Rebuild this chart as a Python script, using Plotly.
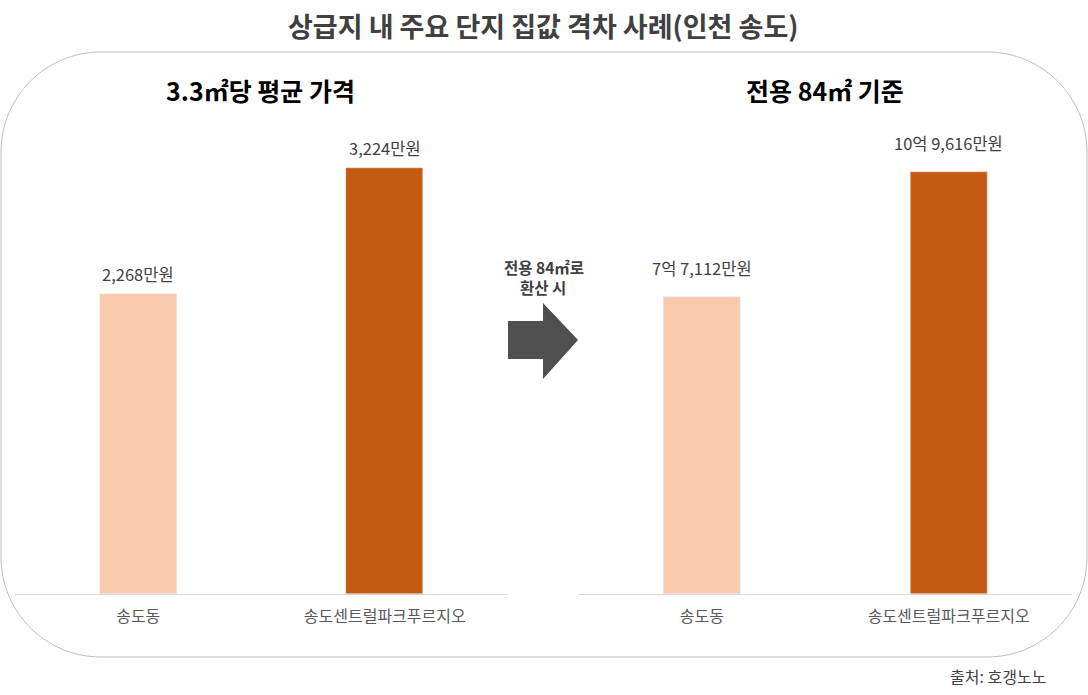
import plotly.graph_objects as go

W, H = 1088, 695

categories = ["송도동", "송도센트럴파크푸르지오"]
price_per_33 = [2268, 3224]            # 만원 per 3.3㎡
price_84 = [77112, 109616]             # 만원 for 84㎡
labels_33 = ["2,268만원", "3,224만원"]
labels_84 = ["7억 7,112만원", "10억 9,616만원"]
bar_colors = ["#F8CBAD", "#C55A11"]

title_text = "상급지 내 주요 단지 집값 격차 사례(인천 송도)"
sub_left = "3.3㎡당 평균 가격"
sub_right = "전용 84㎡ 기준"
arrow_lines = ["전용 84㎡로", "환산 시"]
source_text = "출처: 호갱노노"

FONT = "Noto Sans CJK KR"

def px(x):
    return x / W

def py(y):
    return 1 - y / H

fig = go.Figure()
fig.add_trace(go.Bar(x=categories, y=price_per_33, marker_color=bar_colors,
                     width=0.3125, xaxis="x", yaxis="y", showlegend=False,
                     hoverinfo="skip"))
fig.add_trace(go.Bar(x=categories, y=price_84, marker_color=bar_colors,
                     width=0.3125, xaxis="x2", yaxis="y2", showlegend=False,
                     hoverinfo="skip"))

ydom = [py(594), py(118)]
axis_common = dict(showgrid=False, zeroline=False, showline=True,
                   linecolor="#D9D9D9", linewidth=1, ticks="",
                   tickfont=dict(family=FONT, size=16, color="#595959"),
                   range=[-0.5, 1.5], fixedrange=True, ticklabelstandoff=8)
fig.update_layout(
    width=W, height=H,
    margin=dict(l=0, r=0, t=0, b=0),
    paper_bgcolor="white", plot_bgcolor="white",
    font=dict(family=FONT),
    bargap=0,
    xaxis=dict(domain=[px(15), px(508)], anchor="y", **axis_common),
    xaxis2=dict(domain=[px(578.5), px(1072)], anchor="y2", **axis_common),
    yaxis=dict(domain=ydom, range=[0, 3600], visible=False, anchor="x"),
    yaxis2=dict(domain=ydom, range=[0, 123500], visible=False, anchor="x2"),
)

annotations = []
for c, v, t in zip(categories, price_per_33, labels_33):
    annotations.append(dict(x=c, y=v, xref="x", yref="y", text=t, showarrow=False,
                            yanchor="bottom", yshift=6,
                            font=dict(family=FONT, size=16.5, color="#404040")))
for c, v, t in zip(categories, price_84, labels_84):
    annotations.append(dict(x=c, y=v, xref="x2", yref="y2", text=t, showarrow=False,
                            yanchor="bottom", yshift=15,
                            font=dict(family=FONT, size=16.5, color="#404040")))

annotations += [
    dict(x=px(543), y=py(25), xref="paper", yref="paper", text="<b>" + title_text + "</b>",
         showarrow=False, xanchor="center", yanchor="middle",
         font=dict(family=FONT, size=27, color="#404040")),
    dict(x=px(260), y=py(90), xref="paper", yref="paper", text="<b>" + sub_left + "</b>",
         showarrow=False, xanchor="center", yanchor="middle",
         font=dict(family=FONT, size=25, color="#000000")),
    dict(x=px(825), y=py(90), xref="paper", yref="paper", text="<b>" + sub_right + "</b>",
         showarrow=False, xanchor="center", yanchor="middle",
         font=dict(family=FONT, size=25, color="#000000")),
    dict(x=px(544), y=py(267), xref="paper", yref="paper", text="<b>" + arrow_lines[0] + "</b>",
         showarrow=False, xanchor="center", yanchor="middle",
         font=dict(family=FONT, size=15.5, color="#404040")),
    dict(x=px(543), y=py(287), xref="paper", yref="paper", text="<b>" + arrow_lines[1] + "</b>",
         showarrow=False, xanchor="center", yanchor="middle",
         font=dict(family=FONT, size=15.5, color="#404040")),
    dict(x=px(1048), y=py(676), xref="paper", yref="paper", text=source_text,
         showarrow=False, xanchor="right", yanchor="middle",
         font=dict(family=FONT, size=16, color="#404040")),
]
fig.update_layout(annotations=annotations)

# rounded rectangle container (circular corners in pixels)
x0, y0, x1, y1, r = 1, 52, 1087, 657, 100
k = 0.5523 * r
pts = [
    ("M", [(x0 + r, y0)]),
    ("L", [(x1 - r, y0)]),
    ("C", [(x1 - r + k, y0), (x1, y0 + r - k), (x1, y0 + r)]),
    ("L", [(x1, y1 - r)]),
    ("C", [(x1, y1 - r + k), (x1 - r + k, y1), (x1 - r, y1)]),
    ("L", [(x0 + r, y1)]),
    ("C", [(x0 + r - k, y1), (x0, y1 - r + k), (x0, y1 - r)]),
    ("L", [(x0, y0 + r)]),
    ("C", [(x0, y0 + r - k), (x0 + r - k, y0), (x0 + r, y0)]),
]
path = ""
for cmd, pl in pts:
    path += cmd + " " + " ".join(f"{px(a):.6f},{py(b):.6f}" for a, b in pl) + " "
path += "Z"

arrow_pts = [(508, 321), (543, 321), (543, 303), (578, 340), (543, 379), (543, 359), (508, 359)]
arrow_path = "M " + " L ".join(f"{px(a):.6f},{py(b):.6f}" for a, b in arrow_pts) + " Z"

fig.update_layout(shapes=[
    dict(type="path", path=path, xref="paper", yref="paper",
         line=dict(color="#BFBFBF", width=1), fillcolor="rgba(0,0,0,0)", layer="below"),
    dict(type="path", path=arrow_path, xref="paper", yref="paper",
         line=dict(width=0), fillcolor="#505050"),
])

fig.write_html("out.html")
